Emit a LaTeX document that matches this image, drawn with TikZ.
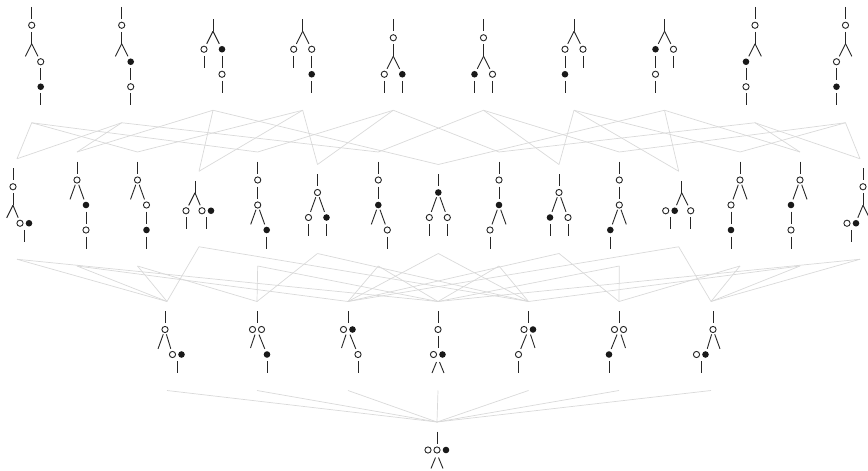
\documentclass[tikz,border=0pt]{standalone}
\begin{document}
\begin{tikzpicture}[x=1pt,y=-1pt,
  tree/.style={line width=0.9pt,draw=black!85},
  link/.style={line width=0.7pt,draw=gray!30},
  dotblack/.style={fill=black!90}]
\useasboundingbox (0,0) rectangle (868,471);

% drawing helpers in local tree coordinates (y grows downward)
\newcommand\vst[3]{\draw[tree] (#1,#2) -- (#1,#3);}
\newcommand\seg[4]{\draw[tree] (#1,#2) -- (#3,#4);}
\newcommand\wdot[2]{\draw[tree,fill=white] (#1,#2) circle[radius=3.1];}
\newcommand\bdot[2]{\fill[dotblack] (#1,#2) circle[radius=3.3];}
% name, root x, row centre y, height, connector x offset, body
\newcommand\placetree[6]{%
  \begin{scope}[shift={(#2,#3-#4/2)}]
    \coordinate (#1n) at (#5,-9.5);
    \coordinate (#1s) at (#5,#4+17.5);
    #6
  \end{scope}}

% ---------- upper row: vertices ----------
\placetree{T1}{31.7}{56}{98.5}{0}{\vst{0}{0}{12}\wdot{0}{18.5}\vst{0}{25}{37}\seg{0}{37}{-6.3}{49.6}\seg{0}{37}{6.3}{49.6}\wdot{9}{55}\vst{9}{61.5}{73.5}\bdot{9}{80}\vst{9}{86.5}{98.5}}
\placetree{T2}{121.7}{56}{98.5}{0}{\vst{0}{0}{12}\wdot{0}{18.5}\vst{0}{25}{37}\seg{0}{37}{-6.3}{49.6}\seg{0}{37}{6.3}{49.6}\bdot{9}{55}\vst{9}{61.5}{73.5}\wdot{9}{80}\vst{9}{86.5}{98.5}}
\placetree{T3}{213}{56}{73.5}{0}{\vst{0}{0}{12}\seg{0}{12}{-6.3}{24.6}\seg{0}{12}{6.3}{24.6}\wdot{-9}{30}\vst{-9}{36.5}{48.5}\bdot{9}{30}\vst{9}{36.5}{48.5}\wdot{9}{55}\vst{9}{61.5}{73.5}}
\placetree{T4}{302.7}{56}{73.5}{0}{\vst{0}{0}{12}\seg{0}{12}{-6.3}{24.6}\seg{0}{12}{6.3}{24.6}\wdot{-9}{30}\vst{-9}{36.5}{48.5}\wdot{9}{30}\vst{9}{36.5}{48.5}\bdot{9}{55}\vst{9}{61.5}{73.5}}
\placetree{T5}{393.3}{56}{73.5}{0}{\vst{0}{0}{12}\wdot{0}{18.5}\vst{0}{25}{37}\seg{0}{37}{-6.3}{49.6}\seg{0}{37}{6.3}{49.6}\wdot{-9}{55}\vst{-9}{61.5}{73.5}\bdot{9}{55}\vst{9}{61.5}{73.5}}
\placetree{T6}{483.5}{56}{73.5}{0}{\vst{0}{0}{12}\wdot{0}{18.5}\vst{0}{25}{37}\seg{0}{37}{-6.3}{49.6}\seg{0}{37}{6.3}{49.6}\bdot{-9}{55}\vst{-9}{61.5}{73.5}\wdot{9}{55}\vst{9}{61.5}{73.5}}
\placetree{T7}{574}{56}{73.5}{0}{\vst{0}{0}{12}\seg{0}{12}{-6.3}{24.6}\seg{0}{12}{6.3}{24.6}\wdot{-9}{30}\vst{-9}{36.5}{48.5}\bdot{-9}{55}\vst{-9}{61.5}{73.5}\wdot{9}{30}\vst{9}{36.5}{48.5}}
\placetree{T8}{664.5}{56}{73.5}{0}{\vst{0}{0}{12}\seg{0}{12}{-6.3}{24.6}\seg{0}{12}{6.3}{24.6}\bdot{-9}{30}\vst{-9}{36.5}{48.5}\wdot{-9}{55}\vst{-9}{61.5}{73.5}\wdot{9}{30}\vst{9}{36.5}{48.5}}
\placetree{T9}{755}{56}{98.5}{0}{\vst{0}{0}{12}\wdot{0}{18.5}\vst{0}{25}{37}\seg{0}{37}{-6.3}{49.6}\seg{0}{37}{6.3}{49.6}\bdot{-9}{55}\vst{-9}{61.5}{73.5}\wdot{-9}{80}\vst{-9}{86.5}{98.5}}
\placetree{T10}{845.5}{56}{98.5}{0}{\vst{0}{0}{12}\wdot{0}{18.5}\vst{0}{25}{37}\seg{0}{37}{-6.3}{49.6}\seg{0}{37}{6.3}{49.6}\wdot{-9}{55}\vst{-9}{61.5}{73.5}\bdot{-9}{80}\vst{-9}{86.5}{98.5}}

% ---------- second row: edges ----------
\placetree{M1}{13}{205}{73.5}{4}{\vst{0}{0}{12}\wdot{0}{18.5}\vst{0}{25}{37}\seg{0}{37}{-6.3}{49.6}\seg{0}{37}{5.2}{49.5}\wdot{7}{55}\bdot{16}{55}\vst{11.5}{61.5}{73.5}}
\placetree{M2}{77}{205}{87}{0}{\vst{0}{0}{12}\wdot{0}{18.5}\seg{-1.7}{23.2}{-7}{37.9}\seg{1.7}{23.2}{7}{37.9}\bdot{9}{43.5}\vst{9}{50}{62}\wdot{9}{68.5}\vst{9}{75}{87}}
\placetree{M3}{137.5}{205}{87}{0}{\vst{0}{0}{12}\wdot{0}{18.5}\seg{-1.7}{23.2}{-7}{37.9}\seg{1.7}{23.2}{7}{37.9}\wdot{9}{43.5}\vst{9}{50}{62}\bdot{9}{68.5}\vst{9}{75}{87}}
\placetree{M4}{195}{205}{48.5}{4}{\vst{0}{0}{12}\seg{0}{12}{-6.3}{24.6}\wdot{-9}{30}\vst{-9}{36.5}{48.5}\seg{0}{12}{5.2}{24.5}\wdot{7}{30}\bdot{16}{30}\vst{11.5}{36.5}{48.5}}
\placetree{M5}{257.7}{205}{87}{0}{\vst{0}{0}{12}\wdot{0}{18.5}\vst{0}{25}{37}\wdot{0}{43.5}\seg{-1.7}{48.2}{-7}{62.9}\seg{1.7}{48.2}{7}{62.9}\bdot{9}{68.5}\vst{9}{75}{87}}
\placetree{M6}{317.5}{205}{62}{0}{\vst{0}{0}{12}\wdot{0}{18.5}\seg{-1.7}{23.2}{-7}{37.9}\seg{1.7}{23.2}{7}{37.9}\wdot{-9}{43.5}\vst{-9}{50}{62}\bdot{9}{43.5}\vst{9}{50}{62}}
\placetree{M7}{378.3}{205}{87}{0}{\vst{0}{0}{12}\wdot{0}{18.5}\vst{0}{25}{37}\bdot{0}{43.5}\seg{-1.7}{48.2}{-7}{62.9}\seg{1.7}{48.2}{7}{62.9}\wdot{9}{68.5}\vst{9}{75}{87}}
\placetree{M8}{438.3}{205}{62}{0}{\vst{0}{0}{12}\bdot{0}{18.5}\seg{-1.7}{23.2}{-7}{37.9}\seg{1.7}{23.2}{7}{37.9}\wdot{-9}{43.5}\vst{-9}{50}{62}\wdot{9}{43.5}\vst{9}{50}{62}}
\placetree{M9}{499}{205}{87}{0}{\vst{0}{0}{12}\wdot{0}{18.5}\vst{0}{25}{37}\bdot{0}{43.5}\seg{-1.7}{48.2}{-7}{62.9}\seg{1.7}{48.2}{7}{62.9}\wdot{-9}{68.5}\vst{-9}{75}{87}}
\placetree{M10}{559}{205}{62}{0}{\vst{0}{0}{12}\wdot{0}{18.5}\seg{-1.7}{23.2}{-7}{37.9}\seg{1.7}{23.2}{7}{37.9}\bdot{-9}{43.5}\vst{-9}{50}{62}\wdot{9}{43.5}\vst{9}{50}{62}}
\placetree{M11}{619.3}{205}{87}{0}{\vst{0}{0}{12}\wdot{0}{18.5}\vst{0}{25}{37}\wdot{0}{43.5}\seg{-1.7}{48.2}{-7}{62.9}\seg{1.7}{48.2}{7}{62.9}\bdot{-9}{68.5}\vst{-9}{75}{87}}
\placetree{M12}{681.7}{205}{48.5}{-3}{\vst{0}{0}{12}\seg{0}{12}{-5.2}{24.5}\wdot{-16}{30}\bdot{-7}{30}\vst{-11.5}{36.5}{48.5}\seg{0}{12}{6.3}{24.6}\wdot{9}{30}\vst{9}{36.5}{48.5}}
\placetree{M13}{740}{205}{87}{0}{\vst{0}{0}{12}\wdot{0}{18.5}\seg{-1.7}{23.2}{-7}{37.9}\seg{1.7}{23.2}{7}{37.9}\wdot{-9}{43.5}\vst{-9}{50}{62}\bdot{-9}{68.5}\vst{-9}{75}{87}}
\placetree{M14}{800}{205}{87}{0}{\vst{0}{0}{12}\wdot{0}{18.5}\seg{-1.7}{23.2}{-7}{37.9}\seg{1.7}{23.2}{7}{37.9}\bdot{-9}{43.5}\vst{-9}{50}{62}\wdot{-9}{68.5}\vst{-9}{75}{87}}
\placetree{M15}{863}{205}{73.5}{-3}{\vst{0}{0}{12}\wdot{0}{18.5}\vst{0}{25}{37}\seg{0}{37}{-5.2}{49.5}\wdot{-16}{55}\bdot{-7}{55}\vst{-11.5}{61.5}{73.5}\seg{0}{37}{6.3}{49.6}}

% ---------- third row: facets ----------
\placetree{B1}{165}{342}{62}{2}{\vst{0}{0}{12}\wdot{0}{18.5}\seg{-1.7}{23.2}{-7}{37.9}\seg{1.4}{23.3}{5.8}{37.8}\wdot{7.5}{43.5}\bdot{16.5}{43.5}\vst{12}{50}{62}}
\placetree{B2}{257}{342}{62}{0}{\vst{0}{0}{12}\wdot{-4.5}{18.5}\wdot{4.5}{18.5}\seg{-2}{23.6}{-6.5}{37}\seg{2}{23.6}{7.8}{37.9}\bdot{10}{43.5}\vst{10}{50}{62}}
\placetree{B3}{348}{342}{62}{0}{\vst{0}{0}{12}\wdot{-4.5}{18.5}\bdot{4.5}{18.5}\seg{-2}{23.6}{-6.5}{37}\seg{2}{23.6}{7.8}{37.9}\wdot{10}{43.5}\vst{10}{50}{62}}
\placetree{B4}{438}{342}{62}{0}{\vst{0}{0}{12}\wdot{0}{18.5}\vst{0}{25}{37}\wdot{-4.5}{43.5}\bdot{4.5}{43.5}\seg{-1.5}{51}{-6}{62}\seg{1.5}{51}{6}{62}}
\placetree{B5}{528.5}{342}{62}{0}{\vst{0}{0}{12}\wdot{-4.5}{18.5}\bdot{4.5}{18.5}\seg{-2}{23.6}{-7.8}{37.9}\seg{2}{23.6}{6.5}{37}\wdot{-10}{43.5}\vst{-10}{50}{62}}
\placetree{B6}{619}{342}{62}{0}{\vst{0}{0}{12}\wdot{-4.5}{18.5}\wdot{4.5}{18.5}\seg{-2}{23.6}{-7.8}{37.9}\seg{2}{23.6}{6.5}{37}\bdot{-10}{43.5}\vst{-10}{50}{62}}
\placetree{B7}{713}{342}{62}{-2}{\vst{0}{0}{12}\wdot{0}{18.5}\seg{-1.4}{23.3}{-5.8}{37.8}\wdot{-16.5}{43.5}\bdot{-7.5}{43.5}\vst{-12}{50}{62}\seg{1.7}{23.2}{7}{37.9}}

% ---------- bottom: the whole cell ----------
\placetree{C}{437}{450}{37}{0}{\vst{0}{0}{12}\wdot{-9}{18.5}\wdot{0}{18.5}\bdot{9}{18.5}\seg{-1.5}{26}{-6}{37}\seg{1.5}{26}{6}{37}}

% ---------- cover relations ----------
\foreach \a/\b in {T1/M1,T1/M3,T1/M5,T2/M1,T2/M2,T2/M7,T3/M2,T3/M4,T3/M8,
  T4/M3,T4/M4,T4/M6,T5/M5,T5/M6,T5/M9,T6/M7,T6/M10,T6/M11,T7/M10,T7/M12,T7/M13,
  T8/M8,T8/M12,T8/M14,T9/M9,T9/M14,T9/M15,T10/M11,T10/M13,T10/M15,
  M1/B1,M1/B4,M2/B1,M2/B3,M3/B1,M3/B2,M4/B1,M4/B5,M5/B2,M5/B4,M6/B2,M6/B5,
  M7/B3,M7/B4,M8/B3,M8/B5,M9/B4,M9/B5,M10/B3,M10/B6,M11/B4,M11/B6,
  M12/B3,M12/B7,M13/B6,M13/B7,M14/B5,M14/B7,M15/B4,M15/B7,
  B1/C,B2/C,B3/C,B4/C,B5/C,B6/C,B7/C}
  \draw[link] (\a s) -- (\b n);
\end{tikzpicture}
\end{document}
